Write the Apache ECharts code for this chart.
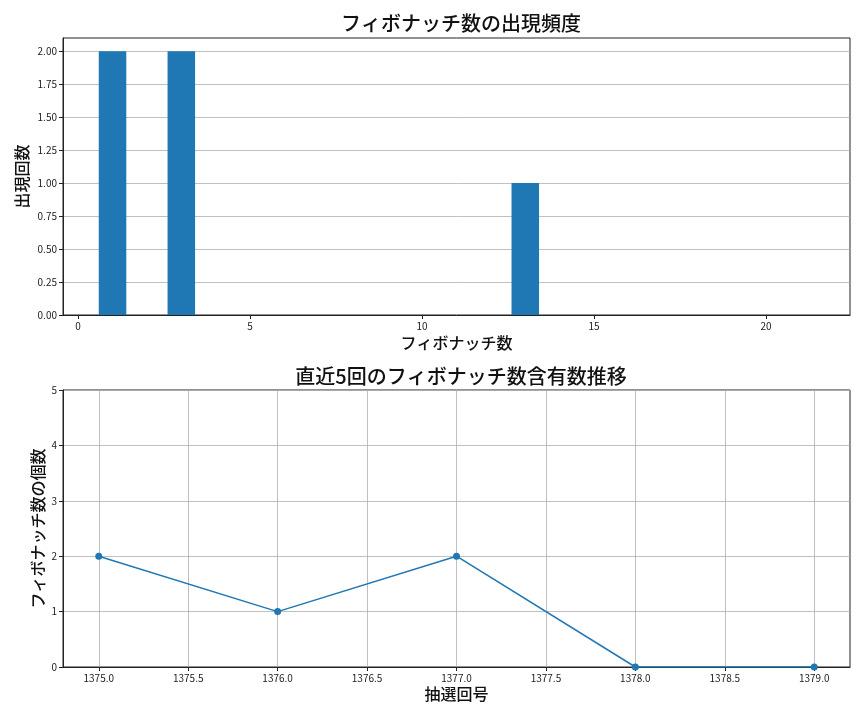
<!DOCTYPE html>
<html>
<head>
<meta charset="utf-8">
<script src="https://cdn.jsdelivr.net/npm/echarts@6/dist/echarts.min.js"></script>
<style>
  html, body { margin: 0; padding: 0; background: #fff; }
  #chart { width: 864px; height: 720px; }
</style>
</head>
<body>
<div id="chart"></div>
<script>
// Datos
const fibNumbers = [1, 2, 3, 5, 8, 13, 21];
const fibCounts = [2, 0, 2, 0, 0, 1, 0];
const histXTicks = [0, 5, 10, 15, 20];
const histYTicks = [0, 0.25, 0.5, 0.75, 1.0, 1.25, 1.5, 1.75, 2.0];

const drawNumbers = [1375, 1376, 1377, 1378, 1379];
const fibPerDraw = [2, 1, 2, 0, 0];
const drawXTicks = [1375.0, 1375.5, 1376.0, 1376.5, 1377.0, 1377.5, 1378.0, 1378.5, 1379.0];
const drawYTicks = [0, 1, 2, 3, 4, 5];

const FONT = '"Noto Sans CJK JP", "Noto Sans", sans-serif';
const AZUL = '#1f77b4';

function ejeComun() {
    return {
        axisLine: { show: true, onZero: false, lineStyle: { color: '#222', width: 1 } },
        axisTick: { show: true, inside: false, length: 4, lineStyle: { color: '#222' } },
        axisLabel: { color: '#222', fontSize: 10, fontFamily: FONT, margin: 6 },
        nameTextStyle: { color: '#111', fontSize: 16, fontWeight: 500, fontFamily: FONT },
        nameLocation: 'middle',
        nameMoveOverlap: false
    };
}

function crearGrafico() {
    const x0 = ejeComun(), y0 = ejeComun(), x1 = ejeComun(), y1 = ejeComun();

    return {
        animation: false,
        textStyle: { fontFamily: FONT },
        title: [
            { text: 'フィボナッチ数の出現頻度', left: 456, top: 8, textAlign: 'center',
              textStyle: { fontSize: 20, fontWeight: 500, color: '#111', fontFamily: FONT } },
            { text: '直近5回のフィボナッチ数含有数推移', left: 456, top: 361, textAlign: 'center',
              textStyle: { fontSize: 20, fontWeight: 500, color: '#111', fontFamily: FONT } }
        ],
        grid: [
            { left: 63, right: 14, top: 38, height: 277, show: true, borderColor: '#222', borderWidth: 1, containLabel: false },
            { left: 63, right: 14, top: 390, height: 277, show: true, borderColor: '#222', borderWidth: 1, containLabel: false }
        ],
        xAxis: [
            Object.assign(x0, {
                type: 'value', gridIndex: 0, min: -0.44, max: 22.44,
                name: 'フィボナッチ数', nameGap: 20,
                axisTick: Object.assign(x0.axisTick, { customValues: histXTicks }),
                axisLabel: Object.assign(x0.axisLabel, { customValues: histXTicks }),
                splitLine: { show: false }
            }),
            Object.assign(x1, {
                type: 'value', gridIndex: 1, min: 1374.8, max: 1379.2,
                name: '抽選回号', nameGap: 19,
                axisTick: Object.assign(x1.axisTick, { customValues: drawXTicks }),
                axisLabel: Object.assign(x1.axisLabel, { customValues: drawXTicks,
                    formatter: v => v.toFixed(1) }),
                splitLine: { show: true, lineStyle: { color: '#b0b0b0', width: 0.8 } }
            })
        ],
        yAxis: [
            Object.assign(y0, {
                type: 'value', gridIndex: 0, min: 0, max: 2.1,
                name: '出現回数', nameGap: 33,
                axisTick: Object.assign(y0.axisTick, { customValues: histYTicks }),
                axisLabel: Object.assign(y0.axisLabel, { customValues: histYTicks,
                    formatter: v => v.toFixed(2) }),
                splitLine: { show: true, lineStyle: { color: '#b0b0b0', width: 0.8 } }
            }),
            Object.assign(y1, {
                type: 'value', gridIndex: 1, min: 0, max: 5,
                name: 'フィボナッチ数の個数', nameGap: 17,
                axisTick: Object.assign(y1.axisTick, { customValues: drawYTicks }),
                axisLabel: Object.assign(y1.axisLabel, { customValues: drawYTicks }),
                splitLine: { show: true, lineStyle: { color: '#b0b0b0', width: 0.8 } }
            })
        ],
        series: [
            {
                type: 'custom',
                xAxisIndex: 0, yAxisIndex: 0,
                data: fibNumbers.map((n, i) => [n, fibCounts[i]]),
                renderItem: function (params, api) {
                    const x = api.value(0), y = api.value(1);
                    if (!y) return null;
                    const p0 = api.coord([x - 0.4, y]);
                    const p1 = api.coord([x + 0.4, 0]);
                    return {
                        type: 'rect',
                        shape: { x: p0[0], y: p0[1], width: p1[0] - p0[0], height: p1[1] - p0[1] },
                        style: { fill: AZUL }
                    };
                }
            },
            {
                type: 'line',
                xAxisIndex: 1, yAxisIndex: 1,
                data: drawNumbers.map((n, i) => [n, fibPerDraw[i]]),
                symbol: 'circle', symbolSize: 7,
                lineStyle: { color: AZUL, width: 1.5 },
                itemStyle: { color: AZUL },
                clip: true
            }
        ]
    };
}

const myChart = echarts.init(document.getElementById('chart'), null, { renderer: 'canvas' });
myChart.setOption(crearGrafico());
</script>
</body>
</html>
